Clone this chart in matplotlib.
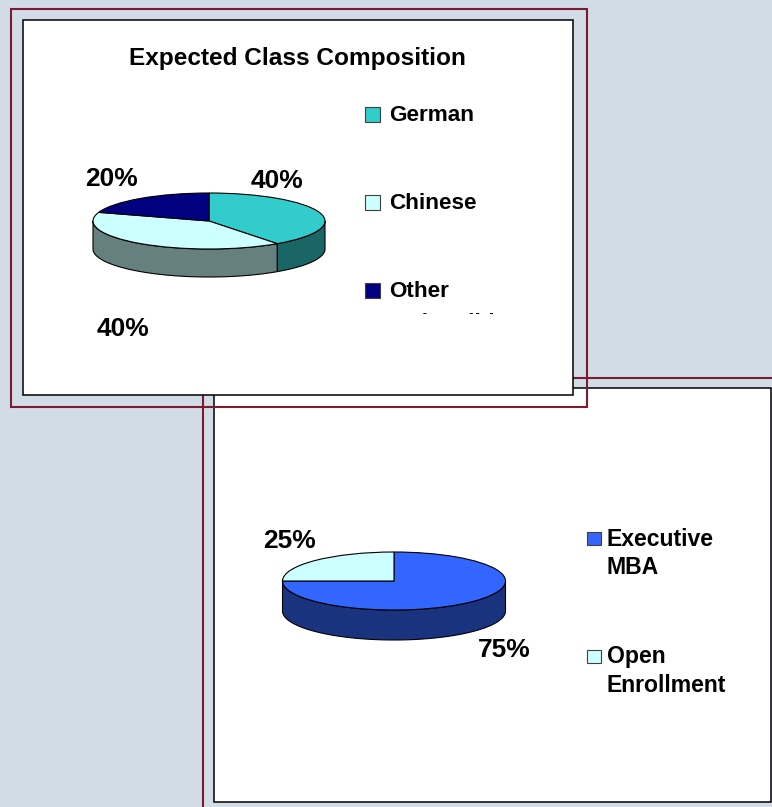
import numpy as np
import matplotlib
matplotlib.use('Agg')
import matplotlib.pyplot as plt
from matplotlib.patches import Rectangle

plt.rcParams['font.family'] = ['Liberation Sans', 'DejaVu Sans']

W, H = 772, 807

# Data
title1 = 'Expected Class Composition'
labels1 = ['German', 'Chinese', 'Other\nnationalities']
values1 = [40, 40, 20]
colors1 = ['#33CCCC', '#CCFFFF', '#000080']
sides1 = ['#1A6666', '#668080', '#000040']

labels2 = ['Executive\nMBA', 'Open\nEnrollment']
values2 = [75, 25]
colors2 = ['#3366FF', '#CCFFFF']
sides2 = ['#1A337F', '#668080']

BG = '#D2DCE6'
RED = '#7B1A30'

fig = plt.figure(figsize=(W / 100, H / 100), dpi=100, facecolor=BG)

# full figure axes, in pixels
ax = fig.add_axes([0, 0, 1, 1])
ax.set_xlim(0, W)
ax.set_ylim(H, 0)
ax.axis('off')


def box(x0, y0, x1, y1, edge, lw, face='none', z=1):
    r = Rectangle((x0, y0), x1 - x0, y1 - y0, facecolor=face, edgecolor=edge, linewidth=lw, zorder=z)
    ax.add_patch(r)
    return r


def draw_pie(values, colors, sides, cx, cy, rx, ry, depth):
    # inset axes squashed so the pie turns into an ellipse
    d = depth / ry
    a = fig.add_axes([(cx - rx - 2) / W, 1 - (cy + ry + depth + 2) / H,
                      (2 * rx + 4) / W, (2 * ry + depth + 4) / H], zorder=5)
    a.patch.set_alpha(0)
    ends = np.cumsum(values) / np.sum(values) * 360
    starts = np.concatenate([[0], ends[:-1]])
    # wall only shows on the front half, 90 to 270 clockwise from the top
    for s, e, c in zip(starts, ends, sides):
        lo, hi = max(s, 90), min(e, 270)
        if lo >= hi:
            continue
        t = np.radians(np.linspace(lo, hi, 80))
        x = np.sin(t)
        y = np.cos(t)
        a.fill(np.r_[x, x[::-1]], np.r_[y, y[::-1] - d], facecolor=c, edgecolor='black', linewidth=0.8)
    a.pie(values, colors=colors, startangle=90, counterclock=False, radius=1,
          wedgeprops={'edgecolor': 'black', 'linewidth': 0.8})
    a.set_aspect('auto')
    a.set_xlim(-1 - 2 / rx, 1 + 2 / rx)
    a.set_ylim(-1 - d - 2 / ry, 1 + 2 / ry)
    a.axis('off')


# second chart sits underneath the first one
ax.plot([203, 203], [H, 378], color=RED, lw=1.5, zorder=1, solid_capstyle='butt')
ax.plot([203, W], [378, 378], color=RED, lw=1.5, zorder=1, solid_capstyle='butt')
box(213.5, 388, 771, 802, 'black', 1.1, 'white', z=2)
box(11, 9, 587, 407, RED, 1.5, z=3)
box(22.5, 20, 573, 395, 'black', 1.1, 'white', z=4)

ax.text(297.5, 58, title1, fontsize=17.6, fontweight='bold', ha='center', va='center', zorder=6)

draw_pie(values1, colors1, sides1, 209, 221, 116, 28, 28)
draw_pie(values2, colors2, sides2, 394, 581, 111.5, 29, 30)

# percent labels
pct_x1, pct_y1 = [277, 123, 112], [181, 329, 179]
for v, x, y in zip(values1, pct_x1, pct_y1):
    ax.text(x, y, '%d%%' % v, fontsize=19, fontweight='bold', ha='center', va='center', zorder=6)
pct_x2, pct_y2 = [504, 289], [650, 541]
for v, x, y in zip(values2, pct_x2, pct_y2):
    ax.text(x, y, '%d%%' % v, fontsize=19, fontweight='bold', ha='center', va='center', zorder=6)

# legend of the first chart, last entry runs out of its box
clip = Rectangle((360, 95), 180, 219, transform=ax.transData)
for lab, c, y in zip(labels1, colors1, [114.5, 202.5, 290.5]):
    box(364.5, y - 7.5, 380, y + 7.5, '#404040', 0.8, c, z=6)
    first = lab.split('\n')[0]
    ax.text(389, y + 1, first, fontsize=16.2, fontweight='bold', ha='left', va='center', zorder=6)
    if '\n' in lab:
        t = ax.text(389, y + 33, lab.split('\n')[1], fontsize=16.2, fontweight='bold',
                    ha='left', va='center', zorder=6, clip_on=True)
        t.set_clip_path(clip)

# legend of the second chart
for lab, c, y in zip(labels2, colors2, [538.5, 656.5]):
    box(587, y - 6.5, 600.5, y + 6.5, '#404040', 0.8, c, z=6)
    for i, line in enumerate(lab.split('\n')):
        ax.text(607, y + 0.5 + i * 28, line, fontsize=16.6, fontweight='bold', ha='left', va='center', zorder=6)

fig.savefig('out.png', dpi=100, facecolor=BG)
